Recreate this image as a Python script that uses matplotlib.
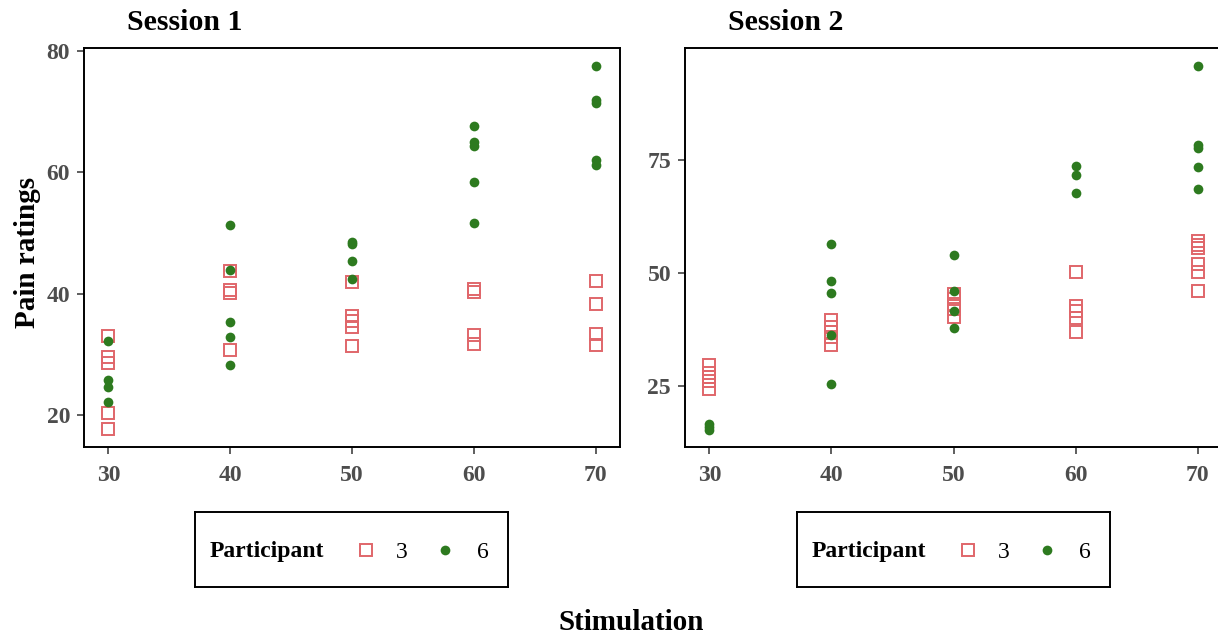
import numpy as np
import matplotlib.pyplot as plt

plt.rcParams['font.family'] = ['Liberation Serif', 'DejaVu Serif']

stim_levels = [30, 40, 50, 60, 70]

# Session 1 ratings per stimulation level
s1_p3 = {
    30: [33.0, 29.6, 28.6, 20.4, 17.8],
    40: [43.8, 40.6, 40.1, 30.8],
    50: [42.0, 36.4, 35.6, 34.5, 31.5],
    60: [40.8, 40.3, 33.2, 31.8],
    70: [42.1, 38.3, 33.4, 31.6],
}
s1_p6 = {
    30: [32.3, 25.9, 24.6, 22.2],
    40: [51.4, 43.9, 35.4, 32.9, 28.3],
    50: [48.6, 48.2, 45.4, 42.4],
    60: [67.6, 65.1, 64.4, 58.4, 51.7],
    70: [77.5, 71.9, 71.4, 62.1, 61.3],
}

# Session 2 ratings per stimulation level
s2_p3 = {
    30: [29.6, 27.9, 27.1, 26.2, 24.5],
    40: [39.7, 38.1, 37.0, 35.9, 34.2],
    50: [45.3, 44.3, 43.2, 42.1, 40.3],
    60: [50.2, 42.8, 41.7, 40.0, 37.0],
    70: [57.0, 56.2, 55.4, 52.0, 50.2, 46.0],
}
s2_p6 = {
    30: [16.6, 16.0, 15.4],
    40: [56.4, 48.2, 45.6, 36.2, 25.4],
    50: [53.9, 46.1, 41.6, 37.8],
    60: [73.5, 71.7, 67.6],
    70: [95.6, 78.2, 77.6, 73.3, 68.4],
}

sessions = ['Session 1', 'Session 2']
participants = ['3', '6']
red = '#E0666A'
green = '#2D7A1F'
tick_grey = '#4D4D4D'


def flatten(d):
    xs, ys = [], []
    for k in stim_levels:
        xs += [k] * len(d[k])
        ys += d[k]
    return xs, ys


fig = plt.figure(figsize=(12.18, 6.38), dpi=100)
ax1 = fig.add_axes([84 / 1218, 1 - 447 / 638, 536 / 1218, 399 / 638])
ax2 = fig.add_axes([685 / 1218, 1 - 447 / 638, 537 / 1218, 399 / 638])

for ax, p3, p6, ylim, yticks in [
    (ax1, s1_p3, s1_p6, (14.8, 80.5), [20, 40, 60, 80]),
    (ax2, s2_p3, s2_p6, (11.6, 99.6), [25, 50, 75]),
]:
    x3, y3 = flatten(p3)
    x6, y6 = flatten(p6)
    ax.plot(x3, y3, 's', ms=8.4, mfc='none', mec=red, mew=1.4, zorder=3)
    ax.plot(x6, y6, 'o', ms=7, color=green, mec=green, mew=0, zorder=3)
    ax.set_xlim(28, 72)
    ax.set_ylim(*ylim)
    ax.set_xticks(stim_levels)
    ax.set_yticks(yticks)
    for sp in ax.spines.values():
        sp.set_linewidth(1.4)
        sp.set_color('black')
    ax.tick_params(direction='out', length=5, width=1.1, color='#333333',
                   labelsize=17, labelcolor=tick_grey, pad=5)
    for lab in ax.get_xticklabels() + ax.get_yticklabels():
        lab.set_fontweight('bold')
    ax.tick_params(axis='x', pad=8)

fig.text(127 / 1218, 1 - 22 / 638, sessions[0], fontsize=21.5, fontweight='bold',
         ha='left', va='center')
fig.text(728 / 1218, 1 - 22 / 638, sessions[1], fontsize=21.5, fontweight='bold',
         ha='left', va='center')
fig.text(28 / 1218, 1 - 252 / 638, 'Pain ratings', fontsize=21, fontweight='bold',
         rotation=90, ha='center', va='center')
fig.text(631 / 1218, 1 - 623 / 638, 'Stimulation', fontsize=21, fontweight='bold',
         ha='center', va='center')

# legend boxes under each panel
for left in [195, 797]:
    lg = fig.add_axes([left / 1218, 1 - 587 / 638, 313 / 1218, 75 / 638])
    lg.set_xlim(0, 313)
    lg.set_ylim(0, 75)
    lg.set_xticks([])
    lg.set_yticks([])
    for sp in lg.spines.values():
        sp.set_linewidth(1.4)
    yc = 75 - (552 - 512)
    lg.text(15, yc, 'Participant', fontsize=17, fontweight='bold', ha='left', va='center')
    lg.plot([171], [yc + 2], 's', ms=8.4, mfc='none', mec=red, mew=1.4)
    lg.text(207, yc, participants[0], fontsize=17, ha='center', va='center')
    lg.plot([250], [yc + 2], 'o', ms=7, color=green, mew=0)
    lg.text(288, yc, participants[1], fontsize=17, ha='center', va='center')

fig.savefig('out.png', dpi=100)
